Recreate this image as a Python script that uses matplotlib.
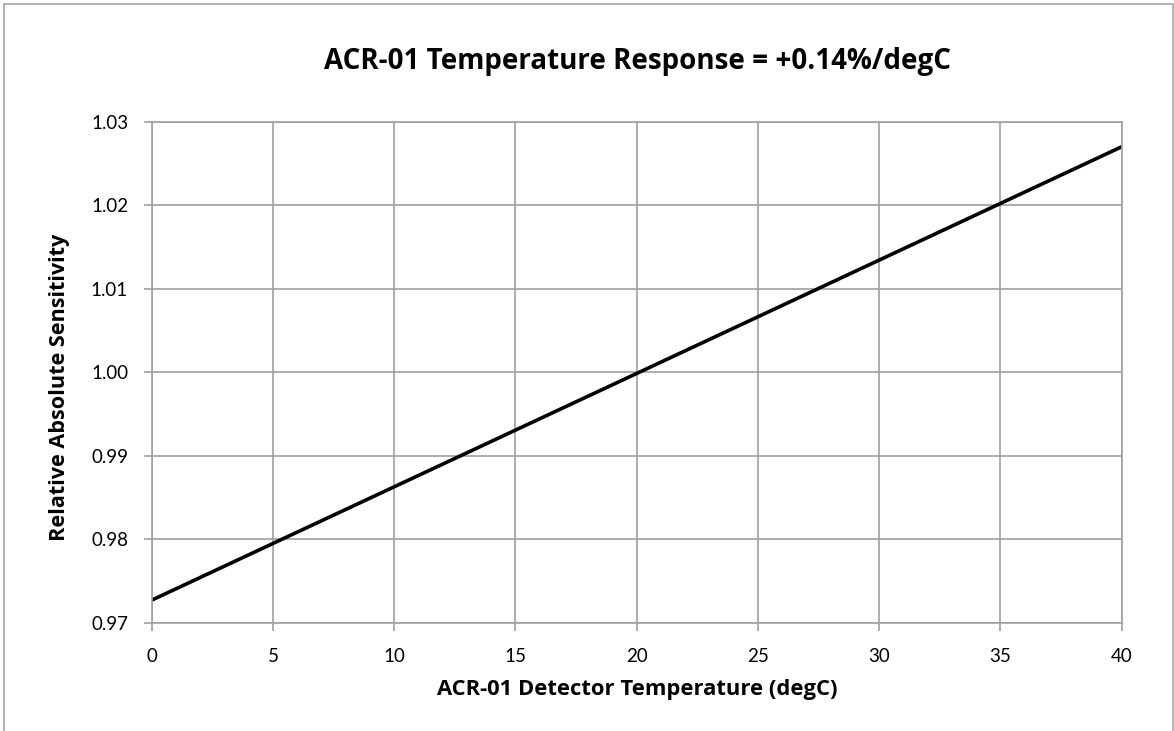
import matplotlib.pyplot as plt
from matplotlib.patches import Rectangle

# detector temperature (degC) and relative sensitivity
temperature = [0, 40]
sensitivity = [0.9727, 1.0270]

x_ticks = [0, 5, 10, 15, 20, 25, 30, 35, 40]
y_ticks = [0.97, 0.98, 0.99, 1.00, 1.01, 1.02, 1.03]

plt.rcParams['font.family'] = ['Lato', 'DejaVu Sans']
bold_font = ['Open Sans', 'DejaVu Sans']

W, H = 1174, 731
fig = plt.figure(figsize=(W / 100, H / 100), dpi=100)
ax = fig.add_axes([151.7 / W, 1 - 622.7 / H, 970 / W, 501 / H])

grid_col = '#a0a0a0'
ax.plot(temperature, sensitivity, color='black', linewidth=2.6, solid_capstyle='butt')

ax.set_xlim(0, 40)
ax.set_ylim(0.97, 1.03)
ax.set_xticks(x_ticks)
ax.set_yticks(y_ticks)
ax.set_yticklabels(['%.2f' % v for v in y_ticks])
ax.grid(True, color=grid_col, linewidth=1.2)
ax.set_axisbelow(True)
for s in ax.spines.values():
    s.set_color(grid_col)
    s.set_linewidth(1.2)
ax.tick_params(axis='both', colors=grid_col, labelcolor='black', labelsize=13.5,
               length=6, width=1.2)
ax.tick_params(axis='x', pad=12)
ax.tick_params(axis='y', pad=11)

# axis titles and chart title
fig.text(637 / W, 1 - 689 / H, 'ACR-01 Detector Temperature (degC)', ha='center', va='center',
         fontsize=15.8, fontweight='bold', family=bold_font)
fig.text(60 / W, 1 - 387 / H, 'Relative Absolute Sensitivity', ha='center', va='center',
         rotation=90, fontsize=15.6, fontweight='bold', family=bold_font)
fig.text(637 / W, 1 - 62 / H, 'ACR-01 Temperature Response = +0.14%/degC',
         ha='center', va='center', fontsize=20, fontweight='bold', family=bold_font)

# chart border (bottom edge falls outside the picture)
fig.patches.append(Rectangle((4 / W, -0.05), 1168.5 / W, 1.05 - 3.5 / H,
                             transform=fig.transFigure, fill=False,
                             edgecolor='#a6a6a6', linewidth=1.2))

fig.savefig('out.png', dpi=100)
